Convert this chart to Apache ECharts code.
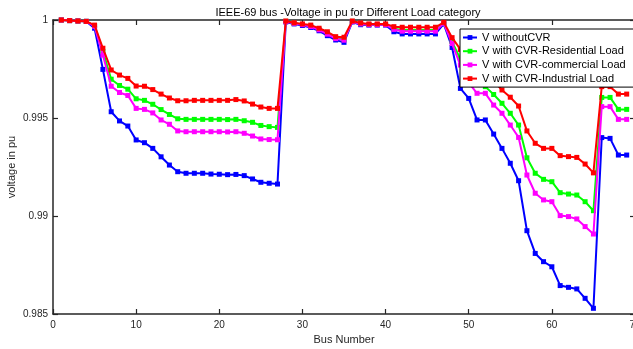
<!DOCTYPE html>
<html>
<head>
<meta charset="utf-8">
<script src="https://cdn.jsdelivr.net/npm/echarts@6/dist/echarts.min.js"></script>
<style>
html,body{margin:0;padding:0;background:#fff;}
#chart{width:633px;height:349px;}
</style>
</head>
<body>
<div id="chart"></div>
<script>
var titleText = 'IEEE-69 bus -Voltage in pu for Different Load category';
var xName = 'Bus Number';
var yName = 'voltage in pu';
var seriesNames = ['V withoutCVR', 'V with CVR-Residential Load', 'V with CVR-commercial Load', 'V with CVR-Industrial Load'];

var buses = [1,2,3,4,5,6,7,8,9,10,11,12,13,14,15,16,17,18,19,20,21,22,23,24,25,26,27,28,29,30,
  31,32,33,34,35,36,37,38,39,40,41,42,43,44,45,46,47,48,49,50,51,52,53,54,55,56,57,58,59,60,
  61,62,63,64,65,66,67,68,69];

var vWithoutCVR = [1.0000,0.99997,0.99995,0.99993,0.99958,0.99748,0.99532,0.99485,0.99459,0.99388,
  0.99374,0.99345,0.99302,0.99260,0.99226,0.99218,0.99218,0.99218,0.99214,0.99213,
  0.99211,0.99212,0.99206,0.99189,0.99172,0.99167,0.99163,0.99990,0.99980,0.99972,
  0.99962,0.99945,0.99920,0.99898,0.99886,0.99990,0.99976,0.99974,0.99974,0.99974,
  0.99940,0.99929,0.99929,0.99929,0.99929,0.99929,0.99980,0.99860,0.99651,0.99600,
  0.99490,0.99490,0.99418,0.99345,0.99269,0.99180,0.98925,0.98809,0.98767,0.98741,
  0.98645,0.98636,0.98628,0.98580,0.98529,0.99400,0.99396,0.99311,0.99311];

var vResidential = [1.0000,0.99997,0.99995,0.99993,0.99970,0.99840,0.99698,0.99666,0.99647,0.99598,
  0.99590,0.99570,0.99543,0.99518,0.99496,0.99493,0.99493,0.99493,0.99493,0.99493,
  0.99492,0.99493,0.99486,0.99478,0.99462,0.99456,0.99452,0.99993,0.99984,0.99977,
  0.99969,0.99953,0.99932,0.99909,0.99902,0.99993,0.99981,0.99977,0.99977,0.99977,
  0.99956,0.99949,0.99949,0.99949,0.99949,0.99949,0.99985,0.99890,0.99800,0.99730,
  0.99680,0.99660,0.99620,0.99575,0.99524,0.99464,0.99297,0.99218,0.99187,0.99175,
  0.99119,0.99112,0.99107,0.99073,0.99027,0.99605,0.99605,0.99544,0.99544];

var vCommercial = [1.0000,0.99997,0.99995,0.99993,0.99968,0.99821,0.99662,0.99630,0.99615,0.99549,
  0.99544,0.99526,0.99490,0.99468,0.99434,0.99430,0.99430,0.99430,0.99430,0.99430,
  0.99429,0.99430,0.99422,0.99408,0.99393,0.99390,0.99389,0.99992,0.99983,0.99976,
  0.99967,0.99950,0.99928,0.99905,0.99897,0.99992,0.99980,0.99976,0.99976,0.99976,
  0.99952,0.99943,0.99943,0.99943,0.99943,0.99943,0.99984,0.99880,0.99770,0.99680,
  0.99626,0.99626,0.99566,0.99524,0.99464,0.99401,0.99209,0.99116,0.99082,0.99073,
  0.99002,0.98997,0.98985,0.98946,0.98908,0.99558,0.99558,0.99493,0.99493];

var vIndustrial = [1.0000,0.99997,0.99995,0.99993,0.99974,0.99856,0.99745,0.99719,0.99702,0.99663,
  0.99662,0.99645,0.99622,0.99602,0.99588,0.99588,0.99590,0.99590,0.99590,0.99590,
  0.99590,0.99594,0.99587,0.99571,0.99556,0.99549,0.99549,0.99995,0.99986,0.99980,
  0.99974,0.99958,0.99940,0.99915,0.99912,0.99995,0.99985,0.99980,0.99980,0.99980,
  0.99966,0.99963,0.99963,0.99963,0.99963,0.99963,0.99988,0.99910,0.99850,0.99790,
  0.99750,0.99730,0.99690,0.99643,0.99606,0.99561,0.99434,0.99371,0.99345,0.99345,
  0.99308,0.99303,0.99299,0.99265,0.99220,0.99660,0.99660,0.99622,0.99622];

var colors = ['#0000ff', '#00ff00', '#ff00ff', '#ff0000'];
var allValues = [vWithoutCVR, vResidential, vCommercial, vIndustrial];

function pairs(vals) {
  return buses.map(function (b, i) { return [b, vals[i]]; });
}

var FONT = '"Liberation Sans", Arial, sans-serif';
var axisCol = '#262626';

var chart = echarts.init(document.getElementById('chart'), null, {renderer: 'canvas'});

var series = allValues.map(function (vals, k) {
  return {
    name: seriesNames[k],
    type: 'line',
    data: pairs(vals),
    symbol: 'rect',
    symbolSize: 5,
    showSymbol: true,
    animation: false,
    lineStyle: {color: colors[k], width: 2},
    itemStyle: {color: colors[k], borderWidth: 0},
    z: 2 + k
  };
});

var option = {
  animation: false,
  backgroundColor: '#ffffff',
  title: {
    text: titleText,
    left: 343, top: 2,
    textAlign: 'center',
    textStyle: {fontFamily: FONT, fontSize: 11, fontWeight: 'normal', color: '#000'}
  },
  legend: {
    orient: 'vertical',
    left: 460, top: 29,
    backgroundColor: '#ffffff',
    borderColor: '#000', borderWidth: 1,
    padding: [2, 10, 2, 2],
    itemWidth: 14, itemHeight: 6,
    itemGap: 0.7,
    textStyle: {fontFamily: FONT, fontSize: 11, color: '#000', lineHeight: 13},
    data: seriesNames,
    z: 10
  },
  grid: {left: 53, right: -2, top: 20, bottom: 35, containLabel: false, outerBoundsMode: 'none'},
  xAxis: [{
    type: 'value', min: 0, max: 70, interval: 10,
    name: xName, nameLocation: 'middle', nameGap: 19,
    nameTextStyle: {fontFamily: FONT, fontSize: 11, color: axisCol},
    axisLine: {show: true, onZero: false, lineStyle: {color: axisCol, width: 1.5}},
    axisTick: {show: true, inside: true, length: 5, lineStyle: {color: axisCol, width: 1.2}},
    axisLabel: {fontFamily: FONT, fontSize: 10, color: axisCol, margin: 6},
    splitLine: {show: false}
  }, {
    type: 'value', min: 0, max: 70, interval: 10, position: 'top',
    axisLine: {show: true, onZero: false, lineStyle: {color: axisCol, width: 1.5}},
    axisTick: {show: true, inside: true, length: 5, lineStyle: {color: axisCol, width: 1.2}},
    axisLabel: {show: false},
    splitLine: {show: false}
  }],
  yAxis: [{
    type: 'value', min: 0.985, max: 1, interval: 0.005,
    name: yName, nameLocation: 'middle', nameGap: 36, nameRotate: 90,
    nameMoveOverlap: false,
    nameTextStyle: {fontFamily: FONT, fontSize: 11, color: axisCol},
    axisLine: {show: true, onZero: false, lineStyle: {color: axisCol, width: 1.5}},
    axisTick: {show: true, inside: true, length: 5, lineStyle: {color: axisCol, width: 1.2}},
    axisLabel: {fontFamily: FONT, fontSize: 10, color: axisCol, margin: 5,
      formatter: function (v) { return String(parseFloat(v.toFixed(3))); }},
    splitLine: {show: false}
  }, {
    type: 'value', min: 0.985, max: 1, interval: 0.005, position: 'right',
    axisLine: {show: true, onZero: false, lineStyle: {color: axisCol, width: 1.5}},
    axisTick: {show: true, inside: true, length: 5, lineStyle: {color: axisCol, width: 1.2}},
    axisLabel: {show: false},
    splitLine: {show: false}
  }],
  series: series
};

chart.setOption(option);
</script>
</body>
</html>
